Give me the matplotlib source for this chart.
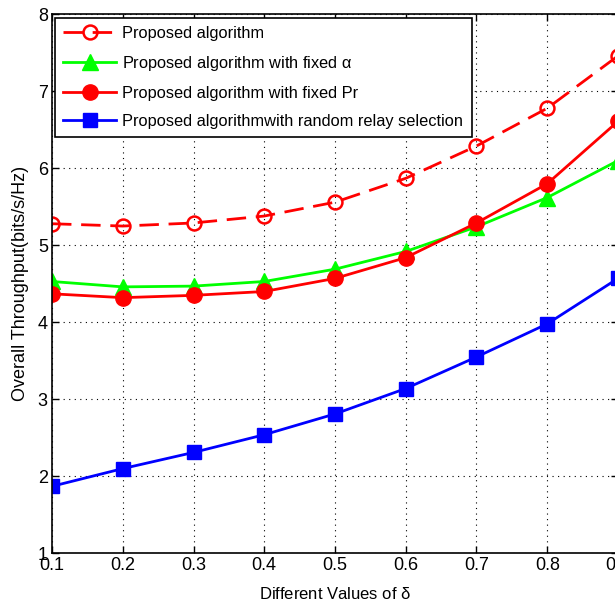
import numpy as np
import matplotlib
matplotlib.use('Agg')
import matplotlib.pyplot as plt

plt.rcParams['font.family'] = ['Liberation Sans Narrow', 'Liberation Sans', 'DejaVu Sans']

delta = [0.1, 0.2, 0.3, 0.4, 0.5, 0.6, 0.7, 0.8, 0.9]
proposed = [5.28, 5.25, 5.29, 5.38, 5.56, 5.87, 6.29, 6.78, 7.46]
fixed_alpha = [4.53, 4.46, 4.47, 4.53, 4.69, 4.92, 5.24, 5.62, 6.10]
fixed_pr = [4.37, 4.32, 4.35, 4.40, 4.57, 4.84, 5.29, 5.80, 6.61]
random_relay = [1.87, 2.10, 2.31, 2.54, 2.81, 3.14, 3.55, 3.98, 4.57]

xticks = [0.1, 0.2, 0.3, 0.4, 0.5, 0.6, 0.7, 0.8, 0.9]
yticks = [1, 2, 3, 4, 5, 6, 7, 8]

fig = plt.figure(figsize=(6.15, 6.11), dpi=100)
# axes runs slightly past the right edge like the cropped original
ax = fig.add_axes([52 / 615, (611 - 553.3) / 611, 566 / 615, 539 / 611])

ax.plot(delta, proposed, color='red', linestyle=(0, (7, 3.5)), linewidth=2,
        marker='o', markersize=10, markerfacecolor='none', markeredgewidth=1.8,
        label='Proposed algorithm')
ax.plot(delta, fixed_alpha, color='#00ff00', linewidth=2, marker='^', markersize=11,
        label=r'Proposed algorithm with fixed $\mathregular{\alpha}$')
ax.plot(delta, fixed_pr, color='red', linewidth=2, marker='o', markersize=11,
        label='Proposed algorithm with fixed Pr')
ax.plot(delta, random_relay, color='blue', linewidth=2, marker='s', markersize=10,
        label='Proposed algorithmwith random relay selection')

ax.set_xlim(0.1, 0.9)
ax.set_ylim(1, 8)
ax.set_xticks(xticks)
ax.set_yticks(yticks)
ax.set_xticklabels([str(t) for t in xticks], fontsize=13)
ax.set_yticklabels([str(t) for t in yticks], fontsize=13)
ax.tick_params(direction='in', top=True, right=True, length=5, width=1, pad=3)
ax.grid(True, color='black', linestyle=(0, (1, 4)), linewidth=0.8)
for s in ax.spines.values():
    s.set_linewidth(1.2)

ax.set_xlabel(r'Different Values of $\mathregular{\delta}$', fontsize=12, labelpad=8)
ax.set_ylabel('Overall Throughput(bits/s/Hz)', fontsize=13, labelpad=6)

leg = ax.legend(loc='upper left', fontsize=11.8, handlelength=3.2, borderpad=0.5,
                labelspacing=0.8, handletextpad=0.4, fancybox=False,
                framealpha=1, edgecolor='black', borderaxespad=0.2)
leg.get_frame().set_linewidth(1.2)

fig.savefig('out.png', dpi=100)
